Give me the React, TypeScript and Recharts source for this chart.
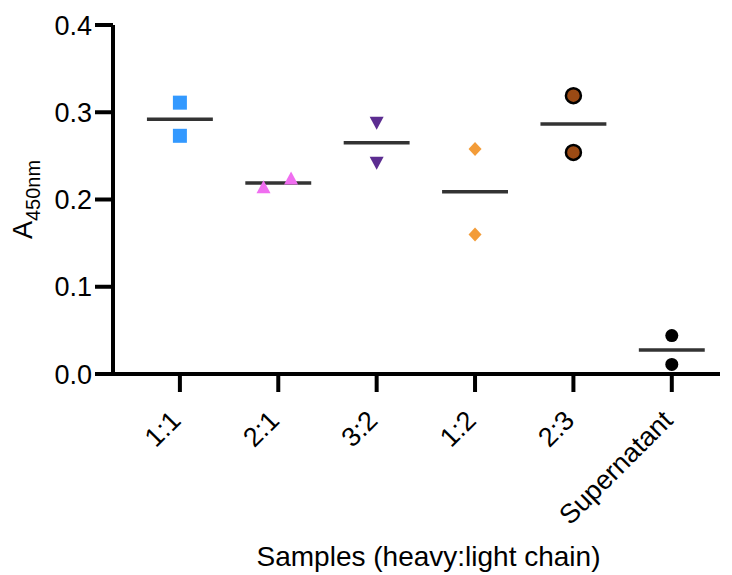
import React from 'react';
import { ComposedChart, Scatter, Line, XAxis, YAxis } from 'recharts';

// ---- data ----
const categories = ['1:1', '2:1', '3:2', '1:2', '2:3', 'Supernatant'];
const ratio11 = [0.311, 0.273];
const ratio21 = [0.214, 0.224];
const ratio32 = [0.288, 0.242];
const ratio12 = [0.258, 0.160];
const ratio23 = [0.319, 0.254];
const supernatant = [0.044, 0.011];
const yTicks = [0, 0.1, 0.2, 0.3, 0.4];
const xTicks = [0, 1, 2, 3, 4, 5];

// horizontal scatter offset of each replicate (category units)
const JITTER = [
  [0, 0],
  [-0.15, 0.13],
  [0, 0],
  [0, 0],
  [0, 0],
  [0, 0],
];
const MEAN_HALF = 0.335;

const FONT = '"Liberation Sans", Arial, Helvetica, sans-serif';

type ShapeKind = 'square' | 'triUp' | 'triDown' | 'diamond' | 'circleBrown' | 'circleBlack';

const groups: { values: number[]; color: string; shape: ShapeKind }[] = [
  { values: ratio11, color: '#3399FF', shape: 'square' },
  { values: ratio21, color: '#F06EF0', shape: 'triUp' },
  { values: ratio32, color: '#5C2D91', shape: 'triDown' },
  { values: ratio12, color: '#F39C38', shape: 'diamond' },
  { values: ratio23, color: '#9B4A14', shape: 'circleBrown' },
  { values: supernatant, color: '#000000', shape: 'circleBlack' },
];

function drawShape(kind: ShapeKind, color: string, cx: number, cy: number) {
  switch (kind) {
    case 'square':
      return <rect x={cx - 7} y={cy - 7} width={14} height={14} fill={color} />;
    case 'triUp':
      return <polygon points={`${cx},${cy - 7} ${cx + 7},${cy + 6} ${cx - 7},${cy + 6}`} fill={color} />;
    case 'triDown':
      return <polygon points={`${cx - 7},${cy - 6} ${cx + 7},${cy - 6} ${cx},${cy + 7}`} fill={color} />;
    case 'diamond':
      return <polygon points={`${cx},${cy - 7} ${cx + 6.5},${cy} ${cx},${cy + 7} ${cx - 6.5},${cy}`} fill={color} />;
    case 'circleBrown':
      return <circle cx={cx} cy={cy} r={7.5} fill={color} stroke="#000" strokeWidth={2.5} />;
    default:
      return <circle cx={cx} cy={cy} r={6.5} fill={color} />;
  }
}

const YTick = (props: any) => {
  const { x, y, payload } = props;
  return (
    <text x={x} y={y} dy="0.355em" textAnchor="end" fontSize={27} fontFamily={FONT} fill="#000">
      {Number(payload.value).toFixed(1)}
    </text>
  );
};

const XTick = (props: any) => {
  const { x, y, payload } = props;
  const ax = x + 2.5;
  const ay = y + 28;
  return (
    <text
      x={ax}
      y={ay}
      transform={`rotate(-45, ${ax}, ${ay})`}
      textAnchor="end"
      fontSize={27}
      fontFamily={FONT}
      fill="#000"
    >
      {categories[payload.value]}
    </text>
  );
};

const XTitle = (props: any) => {
  const vb = props.viewBox || { x: 105, y: 366, width: 607, height: 201 };
  return (
    <text
      x={vb.x + vb.width / 2 + 12}
      y={vb.y + 192}
      textAnchor="middle"
      fontSize={28}
      fontFamily={FONT}
      fill="#000"
    >
      Samples (heavy:light chain)
    </text>
  );
};

const YTitle = (props: any) => {
  const vb = props.viewBox || { x: 0, y: 17, width: 105, height: 349 };
  const x = vb.x + 24;
  const y = vb.y + vb.height / 2;
  return (
    <text
      x={x}
      y={y}
      transform={`rotate(-90, ${x}, ${y})`}
      textAnchor="middle"
      fontSize={27}
      fontFamily={FONT}
      fill="#000"
    >
      <tspan>A</tspan>
      <tspan fontSize={20} dy={8}>450nm</tspan>
    </text>
  );
};

export default function App() {
  const pointSets = groups.map((g, i) =>
    g.values.map((v, j) => ({ x: i + JITTER[i][j], y: v }))
  );
  const meanSets = groups.map((g, i) => {
    const mean = g.values.reduce((a, b) => a + b, 0) / g.values.length;
    return [
      { x: i - MEAN_HALF, y: mean },
      { x: i + MEAN_HALF, y: mean },
    ];
  });

  return (
    <div style={{ width: 724, height: 567, background: '#fff' }}>
      <ComposedChart
        width={724}
        height={567}
        margin={{ top: 17, right: 12, bottom: 0, left: 0 }}
      >
        <XAxis
          type="number"
          dataKey="x"
          domain={[-0.68, 5.49]}
          ticks={xTicks}
          allowDataOverflow
          interval={0}
          height={201}
          tickSize={18}
          axisLine={{ stroke: '#000', strokeWidth: 4 }}
          tickLine={{ stroke: '#000', strokeWidth: 4 }}
          tick={<XTick />}
          label={<XTitle />}
        />
        <YAxis
          type="number"
          dataKey="y"
          domain={[0, 0.4]}
          ticks={yTicks}
          allowDataOverflow
          width={105}
          tickSize={18}
          tickMargin={3}
          axisLine={{ stroke: '#000', strokeWidth: 4 }}
          tickLine={{ stroke: '#000', strokeWidth: 4 }}
          tick={<YTick />}
          label={<YTitle />}
        />
        {groups.map((g, i) => (
          <Scatter
            key={`pts-${i}`}
            data={pointSets[i]}
            dataKey="y"
            isAnimationActive={false}
            shape={(p: any) => drawShape(g.shape, g.color, p.cx, p.cy)}
          />
        ))}
        {groups.map((g, i) => (
          <Line
            key={`mean-${i}`}
            data={meanSets[i]}
            dataKey="y"
            type="linear"
            stroke="#333"
            strokeWidth={3.5}
            dot={false}
            activeDot={false}
            isAnimationActive={false}
          />
        ))}
      </ComposedChart>
    </div>
  );
}
